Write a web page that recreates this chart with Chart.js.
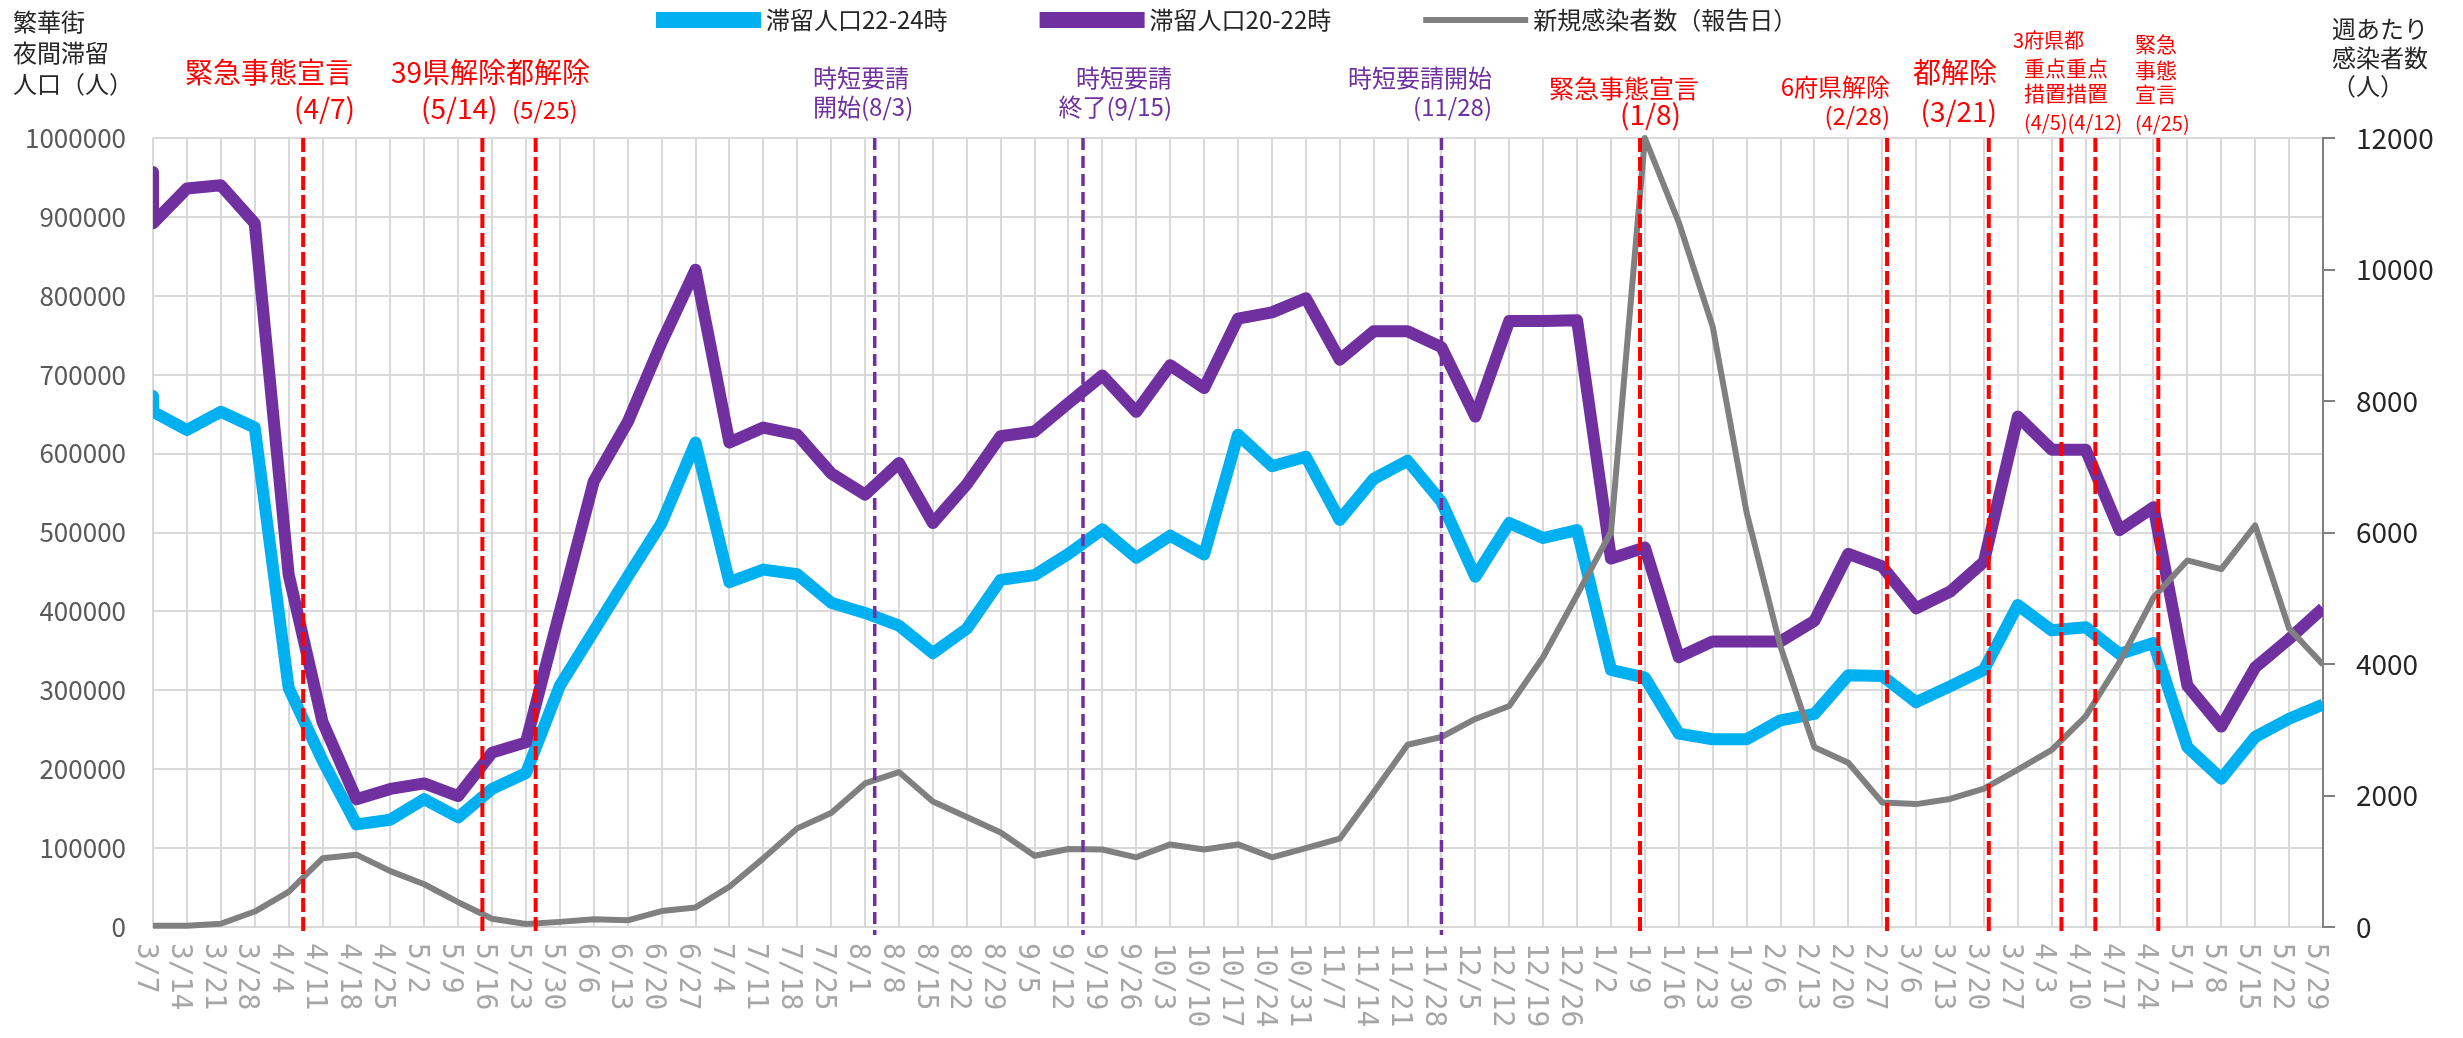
<!DOCTYPE html>
<html>
<head>
<meta charset="utf-8">
<script src="https://cdn.jsdelivr.net/npm/chart.js@4.4.1/dist/chart.umd.min.js"></script>
<style>
html, body { margin: 0; padding: 0; background: #fff; }
#chart { display: block; }
</style>
</head>
<body>
<canvas id="chart" width="2463" height="1038"></canvas>
<script>
/* ---- Dados (semanas de 2020-03-07 a 2021-05-29) ---- */
var WEEK_LABELS = ['3/7','3/14','3/21','3/28','4/4','4/11','4/18','4/25','5/2','5/9','5/16','5/23','5/30',
    '6/6','6/13','6/20','6/27','7/4','7/11','7/18','7/25','8/1','8/8','8/15','8/22','8/29','9/5','9/12',
    '9/19','9/26','10/3','10/10','10/17','10/24','10/31','11/7','11/14','11/21','11/28','12/5','12/12',
    '12/19','12/26','1/2','1/9','1/16','1/23','1/30','2/6','2/13','2/20','2/27','3/6','3/13','3/20',
    '3/27','4/3','4/10','4/17','4/24','5/1','5/8','5/15','5/22','5/29'];

// 滞留人口22-24時
var LEAD_22_24 = 673000;
var STAY_22_24 = [653000,630000,653000,633000,303000,211000,130000,136000,162000,139000,175000,195000,306000,
    375000,444000,512000,614000,437000,453000,447000,411000,398000,382000,347000,378000,440000,446000,473000,
    504000,468000,496000,472000,624000,584000,596000,516000,568000,591000,539000,444000,512000,
    493000,503000,326000,316000,245000,238000,238000,262000,270000,319000,318000,285000,305000,326000,
    408000,376000,380000,346000,360000,228000,188000,241000,264000,282000];

// 滞留人口20-22時
var LEAD_20_22 = 957000;
var STAY_20_22 = [892000,936000,940000,892000,447000,260000,162000,175000,182000,166000,221000,234000,400000,
    565000,640000,741000,833000,614000,633000,624000,575000,548000,588000,512000,561000,622000,628000,664000,
    699000,653000,712000,683000,771000,779000,797000,719000,755000,755000,735000,647000,768000,
    768000,769000,467000,481000,342000,362000,362000,362000,388000,473000,457000,404000,425000,463000,
    647000,605000,605000,503000,532000,306000,254000,329000,365000,404000];

// 新規感染者数（報告日）, 週あたり
var CASES = [20,20,50,235,534,1044,1100,850,650,377,126,47,78,
    118,102,243,298,612,1044,1500,1735,2183,2356,1908,1672,1437,1084,1186,
    1178,1060,1256,1178,1256,1060,1201,1343,2050,2772,2890,3164,3361,
    4107,5050,6008,12000,10718,9132,6305,4264,2733,2497,1893,1869,1948,2105,
    2395,2694,3204,4029,5010,5575,5442,6109,4539,3989];

var EVENTS_RED    = ['2020-04-07','2020-05-14','2020-05-25','2021-01-08','2021-02-28','2021-03-21','2021-04-05','2021-04-12','2021-04-25'];
var EVENTS_PURPLE = ['2020-08-03','2020-09-15','2020-11-28'];

/* ---- Estilo ---- */
var BLUE = '#00b0f0', PURPLE = '#7030a0', GRAY = '#808080', RED = '#ff0000';
var GRID = '#d9d9d9';
var JP = '"Noto Sans CJK JP", "Noto Sans", sans-serif';

// textos das anotações (posição fixa no topo)
var NOTES = [
    { t: '緊急事態宣言',   x: 353,  a: 'right', y: 72,  s: 28, c: RED },
    { t: '(4/7)',          x: 355,  a: 'right', y: 108, s: 28, c: RED },
    { t: '39県解除都解除', x: 391,  a: 'left',  y: 72,  s: 28, c: RED },
    { t: '(5/14)',         x: 421,  a: 'left',  y: 108, s: 28, c: RED },
    { t: '(5/25)',         x: 512,  a: 'left',  y: 110, s: 24, c: RED },
    { t: '時短要請',       x: 813,  a: 'left',  y: 78,  s: 24, c: PURPLE },
    { t: '開始(8/3)',      x: 813,  a: 'left',  y: 107, s: 24, c: PURPLE },
    { t: '時短要請',       x: 1172, a: 'right', y: 78,  s: 24, c: PURPLE },
    { t: '終了(9/15)',     x: 1172, a: 'right', y: 107, s: 24, c: PURPLE },
    { t: '時短要請開始',   x: 1492, a: 'right', y: 78,  s: 24, c: PURPLE },
    { t: '(11/28)',        x: 1492, a: 'right', y: 107, s: 24, c: PURPLE },
    { t: '緊急事態宣言',   x: 1549, a: 'left',  y: 88,  s: 25, c: RED },
    { t: '(1/8)',          x: 1681, a: 'right', y: 114, s: 28, c: RED },
    { t: '6府県解除',      x: 1890, a: 'right', y: 87,  s: 24, c: RED },
    { t: '(2/28)',         x: 1890, a: 'right', y: 116, s: 24, c: RED },
    { t: '都解除',         x: 1997, a: 'right', y: 72,  s: 28, c: RED },
    { t: '(3/21)',         x: 1997, a: 'right', y: 111, s: 28, c: RED },
    { t: '3府県都',        x: 2013, a: 'left',  y: 40,  s: 20, c: RED },
    { t: '重点重点',       x: 2024, a: 'left',  y: 68,  s: 21, c: RED },
    { t: '措置措置',       x: 2024, a: 'left',  y: 93,  s: 21, c: RED },
    { t: '(4/5)(4/12)',    x: 2024, a: 'left',  y: 122, s: 20, c: RED },
    { t: '緊急',           x: 2135, a: 'left',  y: 44,  s: 21, c: RED },
    { t: '事態',           x: 2135, a: 'left',  y: 70,  s: 21, c: RED },
    { t: '宣言',           x: 2135, a: 'left',  y: 94,  s: 21, c: RED },
    { t: '(4/25)',         x: 2135, a: 'left',  y: 123, s: 20, c: RED }
];

var START_UTC = Date.UTC(2020, 2, 7);
function dayOf(iso) {
    var p = iso.split('-');
    return Math.round((Date.UTC(+p[0], +p[1] - 1, +p[2]) - START_UTC) / 86400000);
}
function pts(lead, vals) {
    var out = (lead == null) ? [] : [{ x: 0, y: lead }];
    vals.forEach(function(v, i) { out.push({ x: i * 7, y: v }); });
    return out;
}

/* ---- Plugin: legenda, títulos, rótulos do eixo x e eventos ---- */
var decor = {
    id: 'decor',
    afterDatasetsDraw: function(chart) {
        var ctx = chart.ctx, xs = chart.scales.x, area = chart.chartArea;
        function vline(iso, color, w, dash) {
            var x = xs.getPixelForValue(dayOf(iso));
            ctx.save();
            ctx.strokeStyle = color; ctx.lineWidth = w; ctx.setLineDash(dash);
            ctx.beginPath(); ctx.moveTo(x, area.top); ctx.lineTo(x, area.bottom + 8); ctx.stroke();
            ctx.restore();
        }
        EVENTS_RED.forEach(function(d) { vline(d, RED, 4, [14, 5]); });
        EVENTS_PURPLE.forEach(function(d) { vline(d, PURPLE, 3.5, [12, 6]); });
    },
    afterDraw: function(chart) {
        var ctx = chart.ctx, xs = chart.scales.x;
        ctx.save();

        // rótulos do eixo x (girados 90° horário)
        ctx.fillStyle = '#a6a6a6';
        ctx.font = '28px "DejaVu Sans Mono", monospace';
        ctx.textAlign = 'left'; ctx.textBaseline = 'middle';
        WEEK_LABELS.forEach(function(lab, i) {
            var x = xs.getPixelForValue(i * 7);
            ctx.save();
            ctx.translate(x - 8, xs.top + 16);
            ctx.rotate(Math.PI / 2);
            ctx.fillText(lab, 0, 0);
            ctx.restore();
        });

        // anotações
        NOTES.forEach(function(n) {
            ctx.font = n.s + 'px ' + JP;
            ctx.fillStyle = n.c;
            ctx.textAlign = n.a;
            ctx.fillText(n.t, n.x, n.y);
        });

        // títulos dos eixos
        ctx.fillStyle = '#262626';
        ctx.font = '24px ' + JP;
        ctx.textAlign = 'left';
        ['繁華街', '夜間滞留', '人口（人）'].forEach(function(t, i) { ctx.fillText(t, 13, 22 + i * 31); });
        ['週あたり', '感染者数', '（人）'].forEach(function(t, i) { ctx.fillText(t, 2332, 29 + i * 28.5); });

        // legenda
        var x = 656, cy = 20;
        chart.data.datasets.forEach(function(ds) {
            if (ds.borderWidth > 8) {
                ctx.fillStyle = ds.borderColor;
                ctx.fillRect(x, cy - 8, 105, 16);
            } else {
                ctx.fillStyle = ds.borderColor;
                ctx.fillRect(x, cy - 3, 105, 6);
            }
            x += 110;
            ctx.fillStyle = '#262626';
            ctx.font = '24px ' + JP;
            ctx.fillText(ds.label, x, cy);
            x += ctx.measureText(ds.label).width + 92;
        });
        ctx.restore();
    }
};

/* ---- Gráfico ---- */
var lineBase = { pointRadius: 0, pointHoverRadius: 0, tension: 0, fill: false,
                 borderJoinStyle: 'round', borderCapStyle: 'butt',
                 clip: { left: 0, right: 0, top: false, bottom: false } };

new Chart(document.getElementById('chart'), {
    type: 'line',
    data: {
        datasets: [
            Object.assign({ label: '滞留人口22-24時', data: pts(LEAD_22_24, STAY_22_24),
                borderColor: BLUE, backgroundColor: BLUE, borderWidth: 12, yAxisID: 'y', order: 2 }, lineBase),
            Object.assign({ label: '滞留人口20-22時', data: pts(LEAD_20_22, STAY_20_22),
                borderColor: PURPLE, backgroundColor: PURPLE, borderWidth: 12, yAxisID: 'y', order: 1 }, lineBase),
            Object.assign({ label: '新規感染者数（報告日）', data: pts(null, CASES),
                borderColor: GRAY, backgroundColor: GRAY, borderWidth: 6, yAxisID: 'y2', order: 0 }, lineBase)
        ]
    },
    options: {
        responsive: false, maintainAspectRatio: false, animation: false, devicePixelRatio: 1,
        layout: { padding: { top: 138, left: 0, right: 0, bottom: 0 } },
        plugins: { legend: { display: false }, tooltip: { enabled: false } },
        scales: {
            x: {
                type: 'linear', min: 0, max: (WEEK_LABELS.length - 1) * 7,
                ticks: { stepSize: 7, display: false, autoSkip: false },
                grid: { color: GRID, lineWidth: 2, drawTicks: false },
                border: { color: GRID, width: 2 },
                afterFit: function(s) { s.height = 111; }
            },
            y: {
                position: 'left', min: 0, max: 1000000,
                ticks: { stepSize: 100000, color: '#595959', padding: 27,
                         font: { family: JP, size: 26 },
                         callback: function(v) { return String(v); } },
                grid: { color: GRID, lineWidth: 2, drawTicks: false },
                border: { display: false },
                afterFit: function(s) { s.width = 153; }
            },
            y2: {
                position: 'right', min: 0, max: 12000,
                ticks: { stepSize: 2000, color: '#262626', padding: 21,
                         font: { family: JP, size: 28 },
                         callback: function(v) { return String(v); } },
                grid: { drawOnChartArea: false, color: GRAY, lineWidth: 2, tickLength: 12 },
                border: { color: GRAY, width: 2 },
                afterFit: function(s) { s.width = 140; }
            }
        }
    },
    plugins: [decor]
});
</script>
</body>
</html>
